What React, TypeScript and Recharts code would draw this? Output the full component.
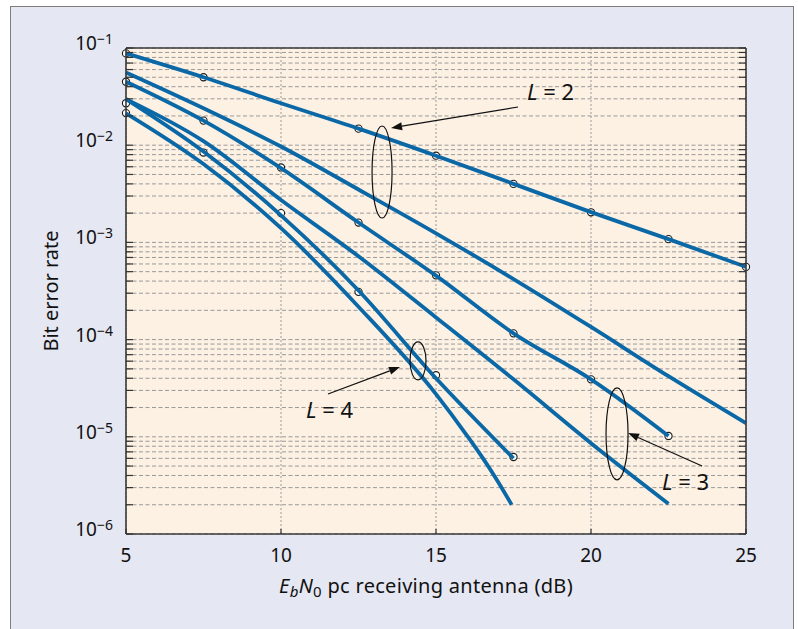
import React from "react";
import {
  ComposedChart,
  Line,
  Scatter,
  XAxis,
  YAxis,
  CartesianGrid,
  ReferenceDot,
} from "recharts";

// x axis (Eb/N0, dB)
const snrTicks = [5, 10, 15, 20, 25];

// y axis (log) – decades with their exponent labels, plus minor steps
const decades = [1e-6, 1e-5, 1e-4, 1e-3, 1e-2, 1e-1];
const decadeExponents = ["−6", "−5", "−4", "−3", "−2", "−1"];
const minorSteps = [2, 3, 4, 5, 6, 7, 8, 9];

// curves
const l2X = [5, 7.5, 10, 12.5, 15, 17.5, 20, 22.5, 25];
const l2Sim = [0.088, 0.05, 0.027, 0.0148, 0.0078, 0.004, 0.00205, 0.00108, 0.00056];
const l2Bound = [0.056, 0.024, 0.0097, 0.0035, 0.00124, 0.00042, 0.000135, 0.000042, 0.0000138];

const l3X = [5, 7.5, 10, 12.5, 15, 17.5, 20, 22.5];
const l3Sim = [0.045, 0.0179, 0.0058, 0.0016, 0.000455, 0.000116, 0.000039, 0.0000102];
const l3Bound = [0.0298, 0.011, 0.00273, 0.00072, 0.000169, 0.000039, 0.0000086, 0.00000205];

const l4X = [5, 7.5, 10, 12.5, 15, 17.5];
const l4Sim = [0.0298, 0.0086, 0.0019, 0.00032, 0.00004, 0.000006];
const l4BoundX = [5, 7.5, 10, 12.5, 15, 16, 16.5, 17, 17.44];
const l4Bound = [0.0213, 0.0064, 0.0014, 0.000218, 0.0000275, 0.0000103, 0.0000061, 0.00000345, 0.000002];

// simulation points (circles)
const l2MarkX = [5, 7.5, 12.5, 15, 17.5, 20, 22.5, 25];
const l2Marks = [0.088, 0.05, 0.0148, 0.0078, 0.004, 0.00204, 0.00108, 0.00056];
const l3MarkX = [5, 7.5, 10, 12.5, 15, 17.5, 20, 22.5];
const l3Marks = [0.045, 0.0179, 0.0059, 0.0016, 0.000458, 0.000116, 0.000039, 0.0000102];
const l4MarkX = [5, 5, 7.5, 10, 12.5, 15, 17.5];
const l4Marks = [0.027, 0.0214, 0.0084, 0.002, 0.00031, 0.000043, 0.0000062];

const BLUE = "#0b68a6";
const FONT = "'Noto Sans', 'Open Sans', sans-serif";

const yTicks: number[] = [];
decades.forEach((d, i) => {
  yTicks.push(d);
  if (i < decades.length - 1) minorSteps.forEach((m) => yTicks.push(m * d));
});

const toRows = (xs: number[], ys: number[]) => xs.map((x, i) => ({ x, ber: ys[i] }));

const curves = [
  toRows(l2X, l2Sim),
  toRows(l2X, l2Bound),
  toRows(l3X, l3Sim),
  toRows(l3X, l3Bound),
  toRows(l4X, l4Sim),
  toRows(l4BoundX, l4Bound),
];
const marks = [toRows(l2MarkX, l2Marks), toRows(l3MarkX, l3Marks), toRows(l4MarkX, l4Marks)];

// annotations: ellipse centre in data units, everything else in px offsets
const annotations = [
  { label: "2", x: 13.26, y: 0.0053, rx: 10, ry: 46, tip: [9, -44], tail: [136, -65], text: [145, -72] },
  { label: "3", x: 20.84, y: 0.0000107, rx: 11, ry: 46, tip: [11, -1], tail: [85, 32], text: [45, 56] },
  { label: "4", x: 14.42, y: 0.0000603, rx: 8, ry: 19, tip: [-18, 6], tail: [-90, 33], text: [-112, 57] },
];

const decadeIndex = (v: number) => decades.findIndex((d) => Math.abs(d - v) / d < 1e-9);

const LeftTick = (props: any) => {
  const { x, y, payload } = props;
  const idx = decadeIndex(payload.value);
  return (
    <g>
      <line x1={x} x2={x + 7} y1={y} y2={y} stroke="#333" strokeWidth={1.2} />
      {idx >= 0 && (
        <text x={x - 13} y={y + 2} textAnchor="end" fontSize={19} fill="#111" fontFamily={FONT}>
          <tspan>10</tspan>
          <tspan fontSize={14} dy={-6}>
            {decadeExponents[idx]}
          </tspan>
        </text>
      )}
    </g>
  );
};

const RightTick = (props: any) => {
  const { x, y } = props;
  return <line x1={x - 7} x2={x} y1={y} y2={y} stroke="#333" strokeWidth={1.2} />;
};

const BottomTick = (props: any) => {
  const { x, y, payload } = props;
  return (
    <g>
      <line x1={x} x2={x} y1={y} y2={y - 5} stroke="#333" strokeWidth={1.2} />
      <text x={x} y={y + 28} textAnchor="middle" fontSize={19} fill="#111" fontFamily={FONT}>
        {payload.value}
      </text>
    </g>
  );
};

const TopTick = (props: any) => {
  const { x, y } = props;
  return <line x1={x} x2={x} y1={y} y2={y + 5} stroke="#333" strokeWidth={1.2} />;
};

const Circle = (props: any) => (
  <circle cx={props.cx} cy={props.cy} r={3.6} fill="#fff" stroke="#1a1a1a" strokeWidth={1.1} />
);

const Annotation = ({ cx, cy, a }: any) => {
  const tx = cx + a.tip[0];
  const ty = cy + a.tip[1];
  const sx = cx + a.tail[0];
  const sy = cy + a.tail[1];
  const ang = Math.atan2(ty - sy, tx - sx);
  const hl = 11;
  const hw = 4;
  const bx = tx - hl * Math.cos(ang);
  const by = ty - hl * Math.sin(ang);
  const head = [
    [tx, ty],
    [bx + hw * Math.sin(ang), by - hw * Math.cos(ang)],
    [bx - hw * Math.sin(ang), by + hw * Math.cos(ang)],
  ]
    .map((p) => p.join(","))
    .join(" ");
  return (
    <g>
      <ellipse cx={cx} cy={cy} rx={a.rx} ry={a.ry} fill="none" stroke="#111" strokeWidth={1.2} />
      <line x1={sx} y1={sy} x2={bx} y2={by} stroke="#111" strokeWidth={1.2} />
      <polygon points={head} fill="#111" />
      <text x={cx + a.text[0]} y={cy + a.text[1]} fontSize={22} fill="#111" fontFamily={FONT}>
        <tspan fontStyle="italic">L</tspan>
        <tspan> = {a.label}</tspan>
      </text>
    </g>
  );
};

const YLabel = (props: any) => {
  const vb = props.viewBox;
  const cx = vb.x + 50;
  const cy = vb.y + vb.height / 2;
  return (
    <text
      x={cx}
      y={cy}
      transform={`rotate(-90, ${cx}, ${cy})`}
      textAnchor="middle"
      dominantBaseline="central"
      fontSize={20}
      fill="#111"
      fontFamily={FONT}
    >
      Bit error rate
    </text>
  );
};

const XLabel = (props: any) => {
  const vb = props.viewBox;
  const cx = vb.x + 300;
  const by = vb.y + 59;
  return (
    <text x={cx} y={by} textAnchor="middle" fontSize={20} letterSpacing={0.3} fill="#111" fontFamily={FONT}>
      <tspan fontStyle="italic">E</tspan>
      <tspan fontStyle="italic" fontSize={15} dy={4}>
        b
      </tspan>
      <tspan fontStyle="italic" dy={-4}>
        N
      </tspan>
      <tspan fontSize={15} dy={4}>
        0
      </tspan>
      <tspan dy={-4}> pc receiving antenna (dB)</tspan>
    </text>
  );
};

export default function App() {
  return (
    <div style={{ position: "absolute", left: 0, top: 0, width: 798, height: 629, overflow: "hidden", background: "#fff" }}>
      <div
        style={{
          position: "absolute",
          left: 10,
          top: 6,
          width: 782,
          height: 660,
          background: "#e5e7f2",
          border: "1.5px solid #7d7d7d",
        }}
      />
      <div style={{ position: "absolute", left: 0, top: 0 }}>
        <ComposedChart width={798} height={629} margin={{ top: 47, right: 51, bottom: 0, left: 0 }}>
          <CartesianGrid
            vertical={false}
            fill="#fdf1e4"
            fillOpacity={1}
            stroke="#999"
            strokeDasharray="4 2.5"
          />
          <CartesianGrid horizontal={false} stroke="#999" strokeDasharray="2 2" />
          <XAxis
            dataKey="x"
            type="number"
            domain={[5, 25]}
            ticks={snrTicks}
            interval={0}
            height={95}
            tickSize={0}
            tickMargin={0}
            tickLine={false}
            axisLine={{ stroke: "#3a3a3a", strokeWidth: 1.6 }}
            tick={<BottomTick />}
            label={<XLabel />}
          />
          <XAxis
            xAxisId="top"
            orientation="top"
            type="number"
            domain={[5, 25]}
            ticks={snrTicks}
            interval={0}
            height={1}
            tickSize={0}
            tickMargin={0}
            tickLine={false}
            axisLine={{ stroke: "#3a3a3a", strokeWidth: 1.6 }}
            tick={<TopTick />}
            allowDataOverflow
          />
          <YAxis
            dataKey="ber"
            type="number"
            scale="log"
            domain={[1e-6, 1e-1]}
            ticks={yTicks}
            interval={0}
            width={126}
            tickSize={0}
            tickMargin={0}
            tickLine={false}
            axisLine={{ stroke: "#3a3a3a", strokeWidth: 1.6 }}
            tick={<LeftTick />}
            label={<YLabel />}
          />
          <YAxis
            yAxisId="right"
            orientation="right"
            type="number"
            scale="log"
            domain={[1e-6, 1e-1]}
            ticks={yTicks}
            interval={0}
            width={1}
            tickSize={0}
            tickMargin={0}
            tickLine={false}
            axisLine={{ stroke: "#3a3a3a", strokeWidth: 1.6 }}
            tick={<RightTick />}
            allowDataOverflow
          />
          {marks.map((m, i) => (
            <Scatter
              key={`m${i}`}
              data={m}
              dataKey="ber"
              shape={<Circle />}
              zIndex={350}
              isAnimationActive={false}
            />
          ))}
          {curves.map((c, i) => (
            <Line
              key={`c${i}`}
              data={c}
              dataKey="ber"
              type="monotone"
              stroke={BLUE}
              strokeWidth={3.8}
              dot={false}
              activeDot={false}
              isAnimationActive={false}
            />
          ))}
          {annotations.map((a) => (
            <ReferenceDot
              key={a.label}
              x={a.x}
              y={a.y}
              r={0}
              ifOverflow="visible"
              shape={(p: any) => <Annotation cx={p.cx} cy={p.cy} a={a} />}
            />
          ))}
        </ComposedChart>
      </div>
    </div>
  );
}
